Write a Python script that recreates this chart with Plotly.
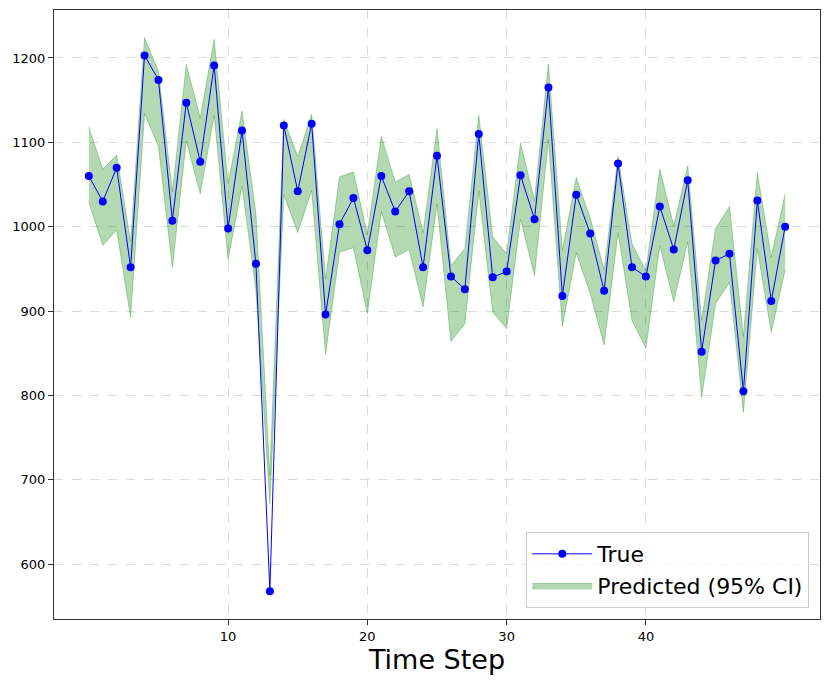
import plotly.graph_objects as go

# values
time_step = list(range(51))

true_vals = [1060, 1030, 1070, 952, 1203, 1174, 1007, 1147, 1077, 1191,
             998, 1114, 956, 568, 1120, 1042, 1122, 896, 1003, 1034,
             972, 1060, 1018, 1042, 952, 1084, 941, 926, 1110, 940,
             947, 1061, 1009, 1165, 918, 1038, 992, 924, 1075, 952,
             941, 1024, 973, 1055, 852, 960, 968, 805, 1031, 912,
             1000]

ci_upper = [1118, 1068, 1085, 982, 1224, 1184, 1041, 1192, 1129, 1222,
            1051, 1137, 1015, 705, 1127, 1083, 1133, 938, 1059, 1065,
            991, 1107, 1053, 1062, 993, 1116, 954, 974, 1132, 988,
            968, 1099, 1031, 1193, 972, 1058, 1010, 949, 1083, 980,
            948, 1068, 1001, 1072, 889, 998, 1024, 870, 1064, 964,
            1039]

ci_lower = [1029, 978, 996, 893, 1134, 1095, 952, 1102, 1039, 1132,
            961, 1048, 925, 672, 1038, 993, 1043, 849, 970, 975,
            897, 1018, 964, 973, 905, 1027, 864, 885, 1042, 899,
            879, 1009, 942, 1103, 882, 969, 921, 860, 993, 889,
            856, 978, 911, 982, 798, 909, 934, 780, 974, 875,
            949]

x_ticks = [10, 20, 30, 40]
y_ticks = [600, 700, 800, 900, 1000, 1100, 1200]

band_color = "rgba(0,128,0,0.3)"

fig = go.Figure()

# confidence band: lower edge first, then upper filled to it
fig.add_trace(go.Scatter(x=time_step, y=ci_lower, mode="lines",
                         line=dict(color=band_color, width=1),
                         showlegend=False, hoverinfo="skip"))
fig.add_trace(go.Scatter(x=time_step, y=ci_upper, mode="lines",
                         line=dict(color=band_color, width=1),
                         fill="tonexty", fillcolor=band_color,
                         name="Predicted (95% CI)", legendrank=2))

# true values on top
fig.add_trace(go.Scatter(x=time_step, y=true_vals, mode="lines+markers",
                         line=dict(color="blue", width=1),
                         marker=dict(color="blue", size=8),
                         name="True", legendrank=1))

axis_style = dict(showline=True, linecolor="#333333", linewidth=1.3, mirror=True,
                  ticks="outside", ticklen=5, tickcolor="#333333",
                  showgrid=True, gridcolor="#dadada", griddash="dash", gridwidth=1,
                  zeroline=False, tickfont=dict(size=13, color="black"))

fig.update_xaxes(range=[-2.5, 52.5], tickvals=x_ticks,
                 title=dict(text="Time Step", font=dict(size=27, color="black"), standoff=6),
                 **axis_style)
fig.update_yaxes(range=[535.2, 1256.8], tickvals=y_ticks, **axis_style)

# page body adds 8px, so the figure is a little smaller than the window
fig.update_layout(
    width=822, height=676,
    margin=dict(l=46, r=10, t=2, b=65),
    plot_bgcolor="white", paper_bgcolor="white",
    font=dict(family="DejaVu Sans", color="black"),
    legend=dict(x=0.986, y=0.018, xanchor="right", yanchor="bottom",
                traceorder="normal",
                bgcolor="rgba(255,255,255,0.8)", bordercolor="#cccccc", borderwidth=1,
                font=dict(size=22), itemwidth=60, tracegroupgap=4),
)

fig.write_html("out.html")
